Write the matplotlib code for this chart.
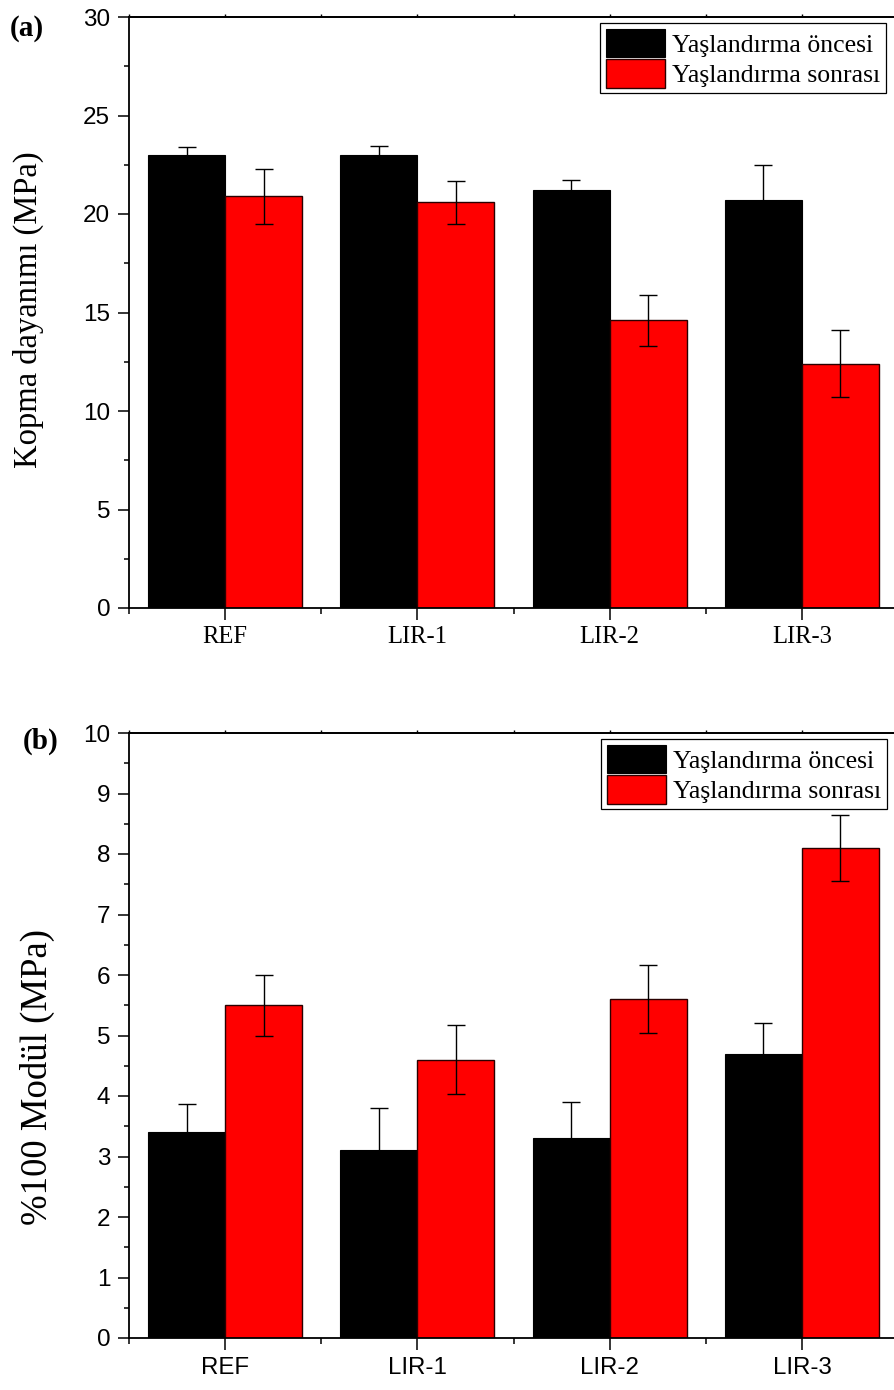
import matplotlib
matplotlib.use("Agg")
import matplotlib.pyplot as plt
import numpy as np
from matplotlib.ticker import FixedLocator, MultipleLocator

# ---- data -------------------------------------------------------------
categories = ["REF", "LIR-1", "LIR-2", "LIR-3"]
series_names = ["Yaşlandırma öncesi", "Yaşlandırma sonrası"]

strength_before = [23.0, 23.0, 21.2, 20.7]
strength_before_err = [0.4, 0.45, 0.55, 1.8]
strength_after = [20.9, 20.6, 14.6, 12.4]
strength_after_err = [1.4, 1.1, 1.3, 1.7]

modulus_before = [3.4, 3.1, 3.3, 4.7]
modulus_before_err = [0.46, 0.7, 0.6, 0.5]
modulus_after = [5.5, 4.6, 5.6, 8.1]
modulus_after_err = [0.5, 0.57, 0.56, 0.55]

SERIF = "Liberation Serif"
SANS = "Liberation Sans"
W, H = 894, 1390

fig = plt.figure(figsize=(W / 100, H / 100), dpi=100)


def panel(rect, before, before_err, after, after_err, ymax, major, ylabel,
          ylabel_size, ylabel_xy, xtick_family, xtick_size, xtick_pad,
          tag, tag_xy, legend_corner):
    left, top, right, bottom = rect
    ax = fig.add_axes([left / W, 1 - bottom / H, (right - left) / W,
                       (bottom - top) / H])
    x = np.arange(len(categories))
    w = 0.4
    ekw = dict(ecolor="black", elinewidth=1.0, capsize=6.5, capthick=1.0)
    b1 = ax.bar(x - w / 2, before, w, yerr=before_err, color="black",
                edgecolor="black", linewidth=0.8, error_kw=ekw, zorder=2,
                label=series_names[0])
    b2 = ax.bar(x + w / 2, after, w, yerr=after_err, color="#ff0000",
                edgecolor="#2a0000", linewidth=1.0, error_kw=ekw, zorder=2,
                label=series_names[1])

    ax.set_xlim(-0.5, len(categories) - 0.5)
    ax.set_ylim(0, ymax)
    for s in ax.spines.values():
        s.set_linewidth(1.3)

    ax.xaxis.set_major_locator(FixedLocator(x))
    ax.xaxis.set_minor_locator(FixedLocator(np.arange(-0.5, len(categories), 1.0)))
    ax.set_xticklabels(categories, family=xtick_family, fontsize=xtick_size)
    ax.yaxis.set_major_locator(MultipleLocator(major))
    ax.yaxis.set_minor_locator(MultipleLocator(major / 2))
    for lab in ax.get_yticklabels():
        lab.set_family(SANS)
        lab.set_fontsize(17.5)

    ax.tick_params(axis="x", which="major", direction="out", length=8.6,
                   width=1.1, pad=xtick_pad)
    ax.tick_params(axis="x", which="minor", direction="out", length=4.3,
                   width=1.1)
    ax.tick_params(axis="y", which="major", direction="out", length=8.0,
                   width=1.1, pad=5.5)
    ax.tick_params(axis="y", which="minor", direction="out", length=3.8,
                   width=1.1)

    # small tick marks along the top frame
    top_ax = ax.secondary_xaxis("top")
    top_ax.xaxis.set_major_locator(FixedLocator(x))
    top_ax.xaxis.set_minor_locator(FixedLocator(np.arange(-0.5, len(categories), 1.0)))
    top_ax.tick_params(which="both", direction="out", length=2.0, width=1.0,
                       labeltop=False)
    top_ax.spines["top"].set_linewidth(1.3)

    ax.set_ylabel(ylabel, family=SERIF, fontsize=ylabel_size, va="center")
    ax.yaxis.set_label_coords((ylabel_xy[0] - left) / (right - left),
                              (bottom - ylabel_xy[1]) / (bottom - top))

    fig.text(tag_xy[0] / W, 1 - tag_xy[1] / H, tag, family=SERIF,
             fontweight="bold", fontsize=21, ha="center", va="center")

    leg = ax.legend(handles=[b1, b2], loc="upper right",
                    bbox_to_anchor=(legend_corner[0] / W, 1 - legend_corner[1] / H),
                    bbox_transform=fig.transFigure, borderaxespad=0,
                    prop=dict(family=SERIF, size=18.5), frameon=True,
                    fancybox=False, framealpha=1, edgecolor="black",
                    handlelength=2.3, handleheight=1.35, handletextpad=0.28,
                    labelspacing=0.05, borderpad=0.22)
    leg.get_frame().set_linewidth(0.9)
    return ax


panel((129, 17, 898, 608), strength_before, strength_before_err,
      strength_after, strength_after_err, 30, 5, "Kopma dayanımı (MPa)",
      23.5, (28, 310), SERIF, 17.7, 4.3, "(a)", (27, 28), (886, 23))

panel((129, 733, 898, 1338), modulus_before, modulus_before_err,
      modulus_after, modulus_after_err, 10, 1, "%100 Modül (MPa)",
      26.5, (37, 1077), SANS, 17.3, 5.0, "(b)", (41, 741), (887, 739))

fig.savefig("out.png", dpi=100)
